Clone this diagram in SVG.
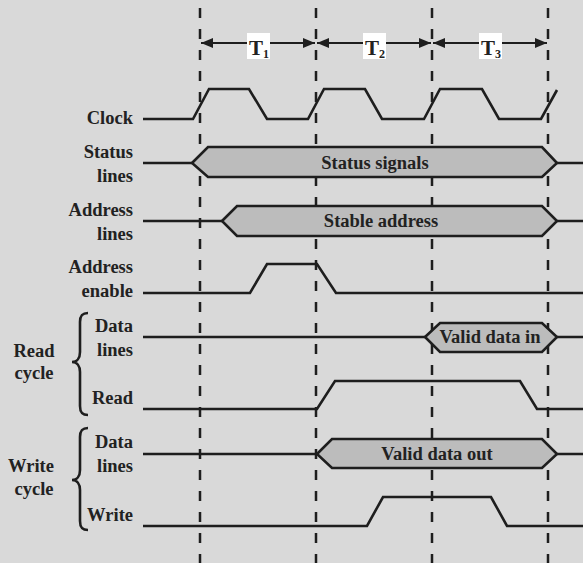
<svg xmlns="http://www.w3.org/2000/svg" width="583" height="563" viewBox="0 0 583 563">
<style>
.bg{fill:#d9d9d9}
.dash{stroke:#1e1e1e;stroke-width:2.5;stroke-dasharray:10 11;fill:none}
.w{stroke:#1e1e1e;stroke-width:2.6;fill:none;stroke-linejoin:miter}
.hex{stroke:#1e1e1e;stroke-width:2.6;fill:#bcbcbc}
.lbl{font-family:"Liberation Serif","Times New Roman",serif;font-weight:bold;font-size:18.5px;fill:#222}
.r{text-anchor:end}
.c{text-anchor:middle}
.tbox{fill:#ffffff}
.arr{stroke:#1e1e1e;stroke-width:2.2;fill:none}
</style>
<defs>
<marker id="ah" viewBox="0 0 12 10" refX="12" refY="5" markerWidth="12" markerHeight="10" markerUnits="userSpaceOnUse" orient="auto-start-reverse">
<path d="M0 0 L12 5 L0 10 Z" fill="#1e1e1e"/>
</marker>
</defs>
<rect class="bg" x="0" y="0" width="583" height="563"/>
<g id="gridlines">
<line class="dash" x1="200" y1="8" x2="200" y2="563"/>
<line class="dash" x1="316" y1="8" x2="316" y2="563"/>
<line class="dash" x1="432" y1="8" x2="432" y2="563"/>
<line class="dash" x1="548" y1="8" x2="548" y2="563"/>
</g>
<g id="periods">
<line class="arr" x1="201" y1="43" x2="315" y2="43" marker-start="url(#ah)" marker-end="url(#ah)"/>
<line class="arr" x1="317" y1="43" x2="431" y2="43" marker-start="url(#ah)" marker-end="url(#ah)"/>
<line class="arr" x1="433" y1="43" x2="547" y2="43" marker-start="url(#ah)" marker-end="url(#ah)"/>
<rect class="tbox" x="247" y="33" width="23" height="26"/>
<rect class="tbox" x="363" y="33" width="23" height="26"/>
<rect class="tbox" x="479" y="33" width="23" height="26"/>
<text class="lbl" x="249" y="55" style="font-size:21px">T<tspan style="font-size:12px" dy="3">1</tspan></text>
<text class="lbl" x="365" y="55" style="font-size:21px">T<tspan style="font-size:12px" dy="3">2</tspan></text>
<text class="lbl" x="481" y="55" style="font-size:21px">T<tspan style="font-size:12px" dy="3">3</tspan></text>
</g>
<g id="clock">
<text class="lbl r" x="133" y="124">Clock</text>
<path class="w" d="M143 119 L193 119 L209 89 L249 89 L267 119 L308 119 L324 89 L365 89 L382 119 L424 119 L440 89 L482 89 L499 119 L541 119 L557 90"/>
</g>
<g id="status">
<text class="lbl r" x="133" y="158">Status</text>
<text class="lbl r" x="133" y="182">lines</text>
<path class="w" d="M143 163 L192 163 M557 163 L583 163"/>
<polygon class="hex" points="192,163 208,147 542,147 557,163 542,177 208,177"/>
<text class="lbl c" x="375" y="169">Status signals</text>
</g>
<g id="address">
<text class="lbl r" x="133" y="216">Address</text>
<text class="lbl r" x="133" y="240">lines</text>
<path class="w" d="M143 221 L222 221 M557 221 L583 221"/>
<polygon class="hex" points="222,221 237,206 542,206 557,221 542,236 237,236"/>
<text class="lbl c" x="381" y="227">Stable address</text>
</g>
<g id="address-enable">
<text class="lbl r" x="133" y="273">Address</text>
<text class="lbl r" x="133" y="297">enable</text>
<path class="w" d="M143 293 L250 293 L267 264 L317 264 L336 293 L583 293"/>
</g>
<g id="read-cycle">
<text class="lbl c" x="34" y="357">Read</text>
<text class="lbl c" x="34" y="379">cycle</text>
<path class="w" d="M88 313 C82 313 80 316 80 322 L80 352 C80 358 77 362 72 362 C77 362 80 366 80 372 L80 406 C80 412 82 415 88 415"/>
</g>
<g id="read-data">
<text class="lbl r" x="133" y="332">Data</text>
<text class="lbl r" x="133" y="356">lines</text>
<path class="w" d="M143 337 L425 337 M557 337 L583 337"/>
<polygon class="hex" points="425,337 440,323 542,323 557,337 542,352 440,352"/>
<text class="lbl c" x="490" y="343">Valid data in</text>
</g>
<g id="read">
<text class="lbl r" x="133" y="404">Read</text>
<path class="w" d="M143 409 L317 409 L335 381 L520 381 L537 409 L583 409"/>
</g>
<g id="write-cycle">
<text class="lbl c" x="31" y="472">Write</text>
<text class="lbl c" x="34" y="495">cycle</text>
<path class="w" d="M88 428 C82 428 80 431 80 437 L80 470 C80 476 77 480 72 480 C77 480 80 484 80 490 L80 521 C80 527 82 530 88 530"/>
</g>
<g id="write-data">
<text class="lbl r" x="133" y="448">Data</text>
<text class="lbl r" x="133" y="472">lines</text>
<path class="w" d="M143 454 L317 454 M557 454 L583 454"/>
<polygon class="hex" points="317,454 332,439 542,439 557,454 542,468 332,468"/>
<text class="lbl c" x="437" y="460">Valid data out</text>
</g>
<g id="write">
<text class="lbl r" x="133" y="521">Write</text>
<path class="w" d="M143 526 L367 526 L383 497 L491 497 L507 526 L583 526"/>
</g>
</svg>
